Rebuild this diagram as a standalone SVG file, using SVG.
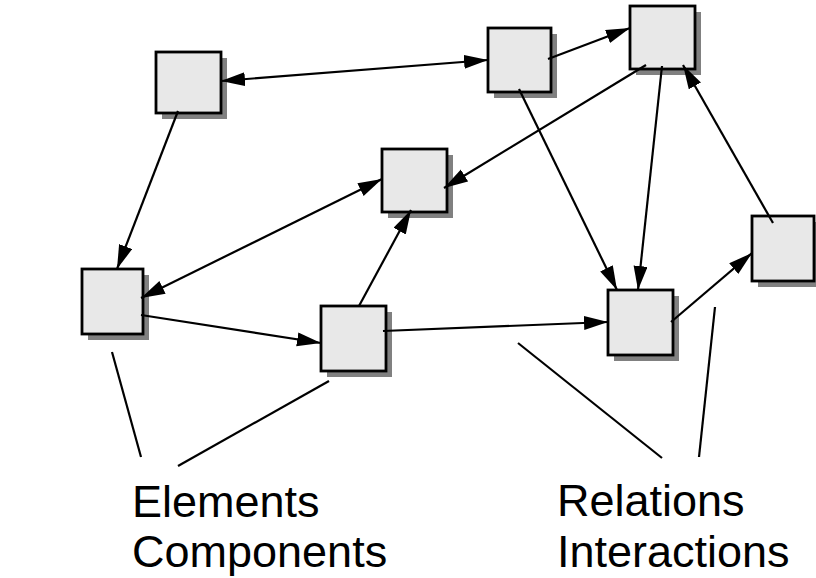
<svg xmlns="http://www.w3.org/2000/svg" width="816" height="578" viewBox="0 0 816 578">
<style>
.shadow{fill:#808080;stroke:none}
.box{fill:#e8e8e8;stroke:#000;stroke-width:2.8}
.conn{stroke:#000;stroke-width:2.2;fill:none}
.arr{marker-end:url(#ah)}
.bi{marker-start:url(#ah);marker-end:url(#ah)}
.lbl{font-family:"Liberation Sans",Arial,sans-serif;font-size:45px;fill:#000}
</style>
<defs>
<marker id="ah" markerUnits="userSpaceOnUse" markerWidth="26" markerHeight="16" refX="24" refY="7" orient="auto-start-reverse">
<path d="M0,0 L24,7 L0,14 z" fill="#000"/>
</marker>
</defs>
<rect width="816" height="578" fill="#fff"/>
<g id="nodeA"><rect class="shadow" x="162" y="58" width="65" height="61"/><rect class="box" x="156" y="52" width="65" height="61"/></g>
<g id="nodeB"><rect class="shadow" x="494" y="34" width="63" height="64"/><rect class="box" x="488" y="28" width="63" height="64"/></g>
<g id="nodeC"><rect class="shadow" x="636" y="12" width="65" height="63"/><rect class="box" x="630" y="6" width="65" height="63"/></g>
<g id="nodeD"><rect class="shadow" x="388" y="155" width="65" height="63"/><rect class="box" x="382" y="149" width="65" height="63"/></g>
<g id="nodeE"><rect class="shadow" x="88" y="275" width="61" height="65"/><rect class="box" x="82" y="269" width="61" height="65"/></g>
<g id="nodeF"><rect class="shadow" x="327" y="312" width="65" height="65"/><rect class="box" x="321" y="306" width="65" height="65"/></g>
<g id="nodeG"><rect class="shadow" x="614" y="296" width="65" height="65"/><rect class="box" x="608" y="290" width="65" height="65"/></g>
<g id="nodeH"><rect class="shadow" x="758" y="222" width="62" height="65"/><rect class="box" x="752" y="216" width="62" height="65"/></g>
<g id="connectors">
<line class="conn bi" x1="221" y1="81" x2="488" y2="60"/>
<line class="conn arr" x1="548" y1="59" x2="630" y2="28"/>
<line class="conn arr" x1="178" y1="111" x2="117" y2="269"/>
<line class="conn bi" x1="382" y1="179" x2="141" y2="298"/>
<line class="conn arr" x1="141" y1="315" x2="321" y2="343"/>
<line class="conn arr" x1="359" y1="306" x2="411" y2="210"/>
<line class="conn arr" x1="383" y1="331" x2="608" y2="322"/>
<line class="conn arr" x1="671" y1="322" x2="752" y2="253"/>
<line class="conn arr" x1="773" y1="223" x2="683" y2="65"/>
<line class="conn arr" x1="646" y1="65" x2="444" y2="188"/>
<line class="conn arr" x1="662" y1="66" x2="638" y2="290"/>
<line class="conn arr" x1="519" y1="89" x2="617" y2="290"/>
<line class="conn" x1="112" y1="352" x2="141" y2="457"/>
<line class="conn" x1="329" y1="381" x2="178" y2="466"/>
<line class="conn" x1="518" y1="343" x2="662" y2="458"/>
<line class="conn" x1="715" y1="307" x2="699" y2="457"/>
</g>
<g id="labels">
<text class="lbl" x="132" y="517">Elements</text>
<text class="lbl" x="132" y="567">Components</text>
<text class="lbl" x="557" y="516">Relations</text>
<text class="lbl" x="557" y="567">Interactions</text>
</g>
</svg>
